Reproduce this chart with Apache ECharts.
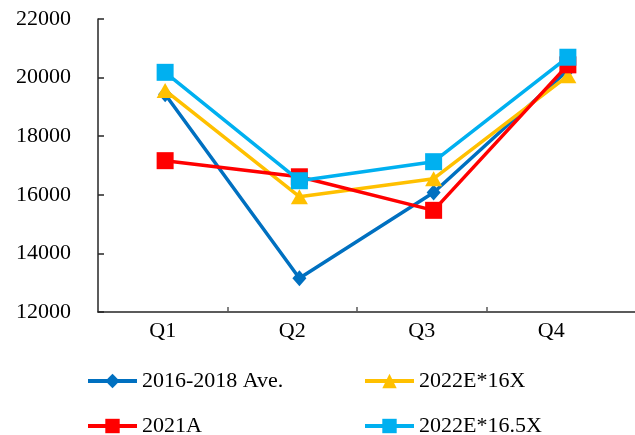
<!DOCTYPE html>
<html>
<head>
<meta charset="utf-8">
<script src="https://cdn.jsdelivr.net/npm/echarts@6/dist/echarts.min.js"></script>
<style>html,body{margin:0;padding:0;background:#fff}#c{width:635px;height:435px}</style>
</head>
<body>
<div id="c"></div>
<script>
var categories = ['Q1', 'Q2', 'Q3', 'Q4'];
var seriesNames = ['2016-2018 Ave.', '2022E*16X', '2021A', '2022E*16.5X'];
var avg2016_2018 = [19430, 13150, 16080, 20250];
var e2022x16 = [19560, 15935, 16550, 20060];
var a2021 = [17165, 16615, 15470, 20435];
var e2022x165 = [20180, 16480, 17130, 20695];
var yTicks = [12000, 14000, 16000, 18000, 20000, 22000];

var FONT = 'Liberation Serif';
var chart = echarts.init(document.getElementById('c'), null, {renderer: 'canvas'});

var colors = ['#0070C0', '#FFC000', '#FF0000', '#00B0F0'];
var symbols = ['diamond', 'triangle', 'rect', 'rect'];
var sizes = [[14, 16], [17, 15], [17, 17], [17, 17]];
var datas = [avg2016_2018, e2022x16, a2021, e2022x165];

var series = datas.map(function (d, i) {
  return {
    name: seriesNames[i],
    type: 'line',
    xAxisIndex: 1,
    yAxisIndex: 1,
    data: d,
    symbol: symbols[i],
    symbolSize: sizes[i],
    showAllSymbol: true,
    lineStyle: {color: colors[i], width: 3.5},
    itemStyle: {color: colors[i], borderWidth: 0},
    emphasis: {disabled: true},
    animation: false,
    z: 2 + i
  };
});

var legendPos = [[86, 370], [363, 370], [86, 415], [363, 415]];
var legends = seriesNames.map(function (n, i) {
  return {
    data: [n],
    left: legendPos[i][0],
    top: legendPos[i][1],
    padding: 0,
    itemWidth: 49,
    itemHeight: 18,
    itemGap: 0,
    selectedMode: false,
    lineStyle: {width: 4},
    textStyle: {fontFamily: FONT, fontSize: 22, color: '#000'}
  };
});

// band positions of categories on the visible (label) axis: value i+0.5
var labelValues = categories.map(function (c, i) { return i + 0.5; });
var tickValues = categories.slice(1).map(function (c, i) { return i + 1; });

chart.setOption({
  backgroundColor: '#fff',
  animation: false,
  legend: legends,
  grid: [
    {left: 98, top: 19, width: 518, height: 293, containLabel: false},
    {left: 98, top: 19, width: 539, height: 293, containLabel: false}
  ],
  xAxis: [
    {
      type: 'value', gridIndex: 0, min: 0, max: categories.length,
      axisLine: {show: false},
      axisTick: {show: true, inside: true, length: 5, customValues: tickValues, lineStyle: {color: '#595959', width: 1.5}},
      axisLabel: {
        fontFamily: FONT, fontSize: 22, color: '#000', margin: 8,
        customValues: labelValues,
        formatter: function (v) { return categories[Math.floor(v)] || ''; }
      },
      splitLine: {show: false}
    },
    {
      type: 'category', gridIndex: 1, data: categories, boundaryGap: true,
      axisLine: {show: true, lineStyle: {color: '#262626', width: 1.5}},
      axisTick: {show: false},
      axisLabel: {show: false},
      splitLine: {show: false}
    }
  ],
  yAxis: [
    {
      type: 'value', gridIndex: 0, min: yTicks[0], max: yTicks[yTicks.length - 1], interval: 2000,
      axisLine: {show: true, lineStyle: {color: '#262626', width: 1.5}},
      axisTick: {show: true, inside: true, length: 6, lineStyle: {color: '#262626', width: 1.5}},
      axisLabel: {fontFamily: FONT, fontSize: 22, color: '#000', margin: 27, formatter: function (v) { return String(v); }},
      splitLine: {show: false}
    },
    {
      type: 'value', gridIndex: 1, min: yTicks[0], max: yTicks[yTicks.length - 1], interval: 2000,
      show: false, splitLine: {show: false}
    }
  ],
  series: series
});
</script>
</body>
</html>
